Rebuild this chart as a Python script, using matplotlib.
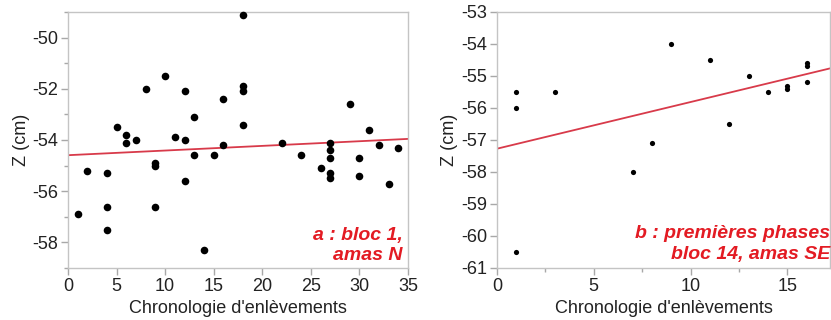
import matplotlib
matplotlib.use("Agg")
import matplotlib.pyplot as plt
import numpy as np
from matplotlib.ticker import MultipleLocator

plt.rcParams["font.family"] = ["Liberation Sans", "DejaVu Sans"]
plt.rcParams["axes.unicode_minus"] = False

# panel a : bloc 1, amas N
a_x = [1, 2, 4, 4, 4, 5, 6, 6, 7, 8, 9, 9, 9, 10, 11, 12, 12, 12, 13, 13, 14, 15,
       16, 16, 18, 18, 18, 18, 22, 24, 26, 27, 27, 27, 27, 27, 29, 30, 30, 31,
       32, 33, 34]
a_z = [-56.9, -55.2, -55.3, -56.6, -57.5, -53.5, -53.8, -54.1, -54.0, -52.0,
       -54.9, -55.0, -56.6, -51.5, -53.9, -52.1, -54.0, -55.6, -53.1, -54.6,
       -58.3, -54.6, -52.4, -54.2, -49.1, -51.9, -52.1, -53.4, -54.1, -54.6,
       -55.1, -54.1, -54.4, -54.7, -55.3, -55.5, -52.6, -54.7, -55.4, -53.6,
       -54.2, -55.7, -54.3]

# panel b : premieres phases, bloc 14, amas SE
b_x = [1, 1, 1, 3, 7, 8, 9, 11, 12, 13, 14, 15, 15, 16, 16, 16]
b_z = [-55.5, -56.0, -60.5, -55.5, -58.0, -57.1, -54.0, -54.5, -56.5, -55.0,
       -55.5, -55.3, -55.4, -54.6, -54.7, -55.2]

RED = "#e31b23"
LINE = "#d83a4a"
GRID = "#c4c4c4"
TXT = "#222222"

fig = plt.figure(figsize=(8.31, 3.2), dpi=100)
ax1 = fig.add_axes([68 / 831, 52 / 320, 340 / 831, 256 / 320])
ax2 = fig.add_axes([497 / 831, 52 / 320, 333 / 831, 256 / 320])


def style(ax):
    for s in ax.spines.values():
        s.set_color(GRID)
        s.set_linewidth(1.0)
    ax.tick_params(which="both", direction="out", color="#a8a8a8",
                   labelsize=13, labelcolor=TXT, width=1.0)
    ax.tick_params(which="major", length=5, pad=2)
    ax.tick_params(which="minor", length=3)
    ax.set_xlabel("Chronologie d'enlèvements", fontsize=13, color=TXT,
                  labelpad=4)
    ax.set_ylabel("Z (cm)", fontsize=13, color=TXT, labelpad=2)


# left panel
ax1.scatter(a_x, a_z, s=30, color="black", zorder=3, clip_on=False,
            linewidths=0)
k, c = np.polyfit(a_x, a_z, 1)
xx = np.array([0, 35])
ax1.plot(xx, k * xx + c, color=LINE, lw=1.3, zorder=2)
ax1.set_xlim(0, 35)
ax1.set_ylim(-59, -49)
ax1.xaxis.set_major_locator(MultipleLocator(5))
ax1.yaxis.set_major_locator(MultipleLocator(2))
ax1.yaxis.set_minor_locator(MultipleLocator(1))
style(ax1)
ax1.text(0.985, 0.088, "a : bloc 1,\namas N", transform=ax1.transAxes,
         ha="right", va="center", fontsize=14, color=RED,
         fontweight="bold", style="italic", linespacing=1.3)

# right panel
ax2.scatter(b_x, b_z, s=14, color="black", zorder=3, linewidths=0)
k, c = np.polyfit(b_x, b_z, 1)
xx = np.array([0, 17.2])
ax2.plot(xx, k * xx + c, color=LINE, lw=1.3, zorder=2)
ax2.set_xlim(0, 17.2)
ax2.set_ylim(-61, -53)
ax2.xaxis.set_major_locator(MultipleLocator(5))
ax2.xaxis.set_minor_locator(MultipleLocator(2.5))
ax2.yaxis.set_major_locator(MultipleLocator(1))
style(ax2)
ax2.text(1.0, 0.092, "b : premières phases\nbloc 14, amas SE",
         transform=ax2.transAxes, ha="right", va="center", fontsize=14,
         color=RED, fontweight="bold", style="italic", linespacing=1.3)

fig.savefig("out.png", dpi=100, facecolor="white")
